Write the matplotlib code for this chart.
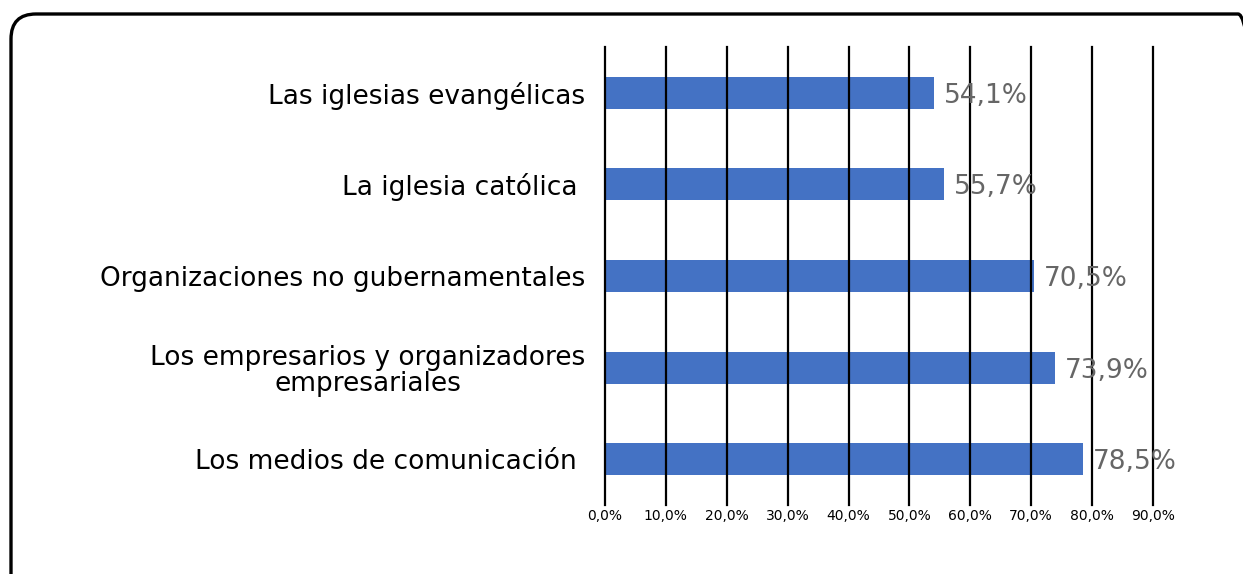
import matplotlib.pyplot as plt
from matplotlib.patches import FancyBboxPatch
from matplotlib.transforms import IdentityTransform

categories = [
    "Los medios de comunicación ",
    "Los empresarios y organizadores\nempresariales",
    "Organizaciones no gubernamentales",
    "La iglesia católica ",
    "Las iglesias evangélicas",
]
values = [78.5, 73.9, 70.5, 55.7, 54.1]
ticks = [0, 10, 20, 30, 40, 50, 60, 70, 80, 90]

plt.rcParams['font.family'] = ['DejaVu Sans']

fig = plt.figure(figsize=(12.43, 5.74), dpi=100)
ax = fig.add_axes([0.4867, 0.1202, 0.4409, 0.7980])

ypos = range(len(categories))
ax.barh(ypos, values, height=0.35, color='#4472C4', zorder=1)

for y, v in zip(ypos, values):
    ax.text(v + 1.6, y, f"{v:.1f}%".replace('.', ','), va='center_baseline', ha='left',
            fontsize=19, color='#666666', zorder=3)

ax.set_xlim(0, 90)
ax.set_ylim(-0.5, 4.5)
ax.set_xticks(ticks)
ax.set_xticklabels([f"{t:.1f}%".replace('.', ',') for t in ticks], fontsize=10)
ax.set_yticks(list(ypos))
ax.set_yticklabels(categories, fontsize=19, linespacing=1.0)
for lbl in ax.get_yticklabels():
    lbl.set_multialignment('center')
ax.tick_params(axis='both', length=0)
ax.tick_params(axis='y', pad=14)
ax.tick_params(axis='x', pad=3)
for s in ax.spines.values():
    s.set_visible(False)
for t in ticks:
    ax.axvline(t, color='black', linewidth=1.6, zorder=2, clip_on=False)

# rounded frame around the chart (pixel coordinates)
box = FancyBboxPatch((11, -60), 1252, 620, boxstyle="round,pad=0,rounding_size=25",
                     transform=IdentityTransform(), fill=False, edgecolor='black',
                     linewidth=2.4, zorder=10)
fig.patches.append(box)

fig.savefig('out.png', dpi=100)
